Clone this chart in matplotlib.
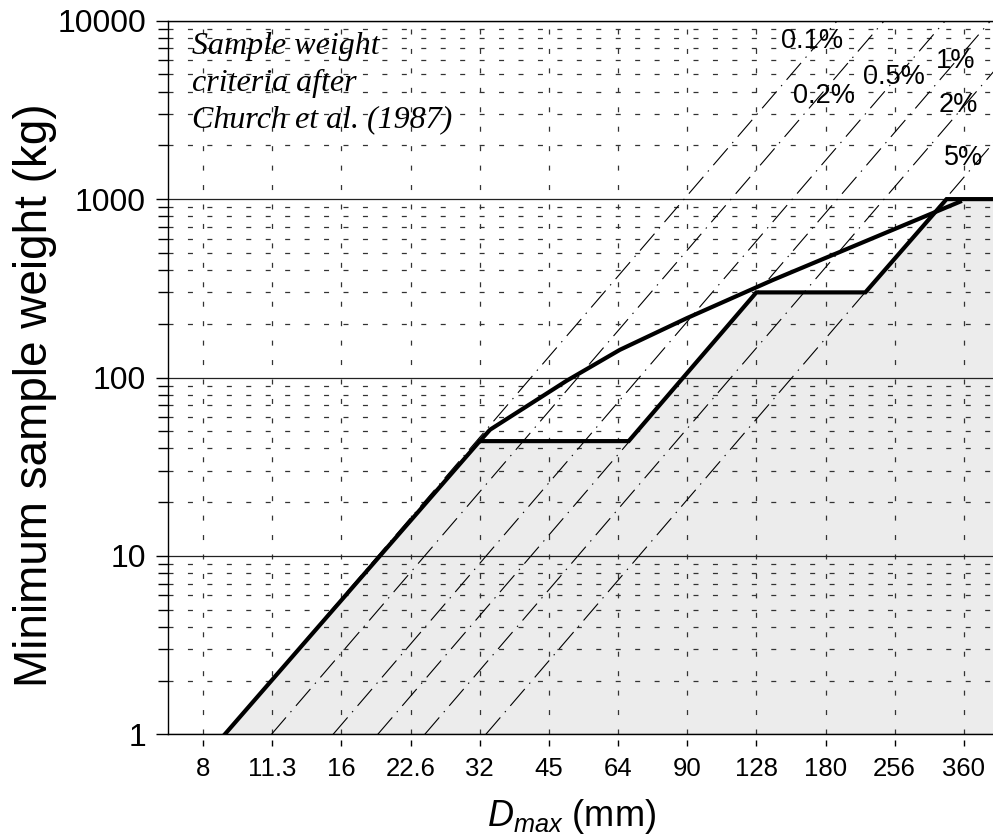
import matplotlib
matplotlib.use('Agg')
import matplotlib.pyplot as plt
import matplotlib.transforms as mtransforms
from matplotlib.ticker import NullLocator, NullFormatter, LogLocator

plt.rcParams['font.family'] = ['Liberation Sans', 'DejaVu Sans']
plt.rcParams['lines.scale_dashes'] = False
plt.rcParams['mathtext.fontset'] = 'custom'
plt.rcParams['mathtext.it'] = 'Liberation Sans:italic'
plt.rcParams['mathtext.rm'] = 'Liberation Sans'

# axis ticks (mm, powers of sqrt 2)
xticks = [8, 11.31, 16, 22.63, 32, 45.25, 64, 90.51, 128, 181.02, 256, 362.04]
xticklabels = ['8', '11.3', '16', '22.6', '32', '45', '64', '90', '128', '180', '256', '360']
yticks = [1, 10, 100, 1000, 10000]
yticklabels = ['1', '10', '100', '1000', '10000']

# Church et al. criterion (lower envelope, shaded)
low_d = [8.92, 32, 67.5, 128, 221, 332, 430]
low_w = [1, 44, 44, 300, 300, 1000, 1000]

# upper curve
up_d = [32, 33.7, 40.5, 49.5, 64.6, 90.3, 139, 355]
up_w = [44, 51, 69, 96, 143, 215, 352, 967]

# percentage lines (largest stone as % of sample): D at W=1 and W=10000
pct_labels = ['0.1%', '0.2%', '0.5%', '1%', '2%', '5%']
pct_d_bottom = [8.92, 11.27, 15.35, 19.2, 24.3, 33.0]
pct_d_top = [192, 243, 330, 414, 523, 710]
pct_lab_d = [169, 180, 255, 348, 352, 361]
pct_lab_w = [7700, 3784, 4832, 5943, 3367, 1700]

fig = plt.figure(figsize=(9.93, 8.39), dpi=100)
ax = fig.add_axes([0.1695, 0.1248, 0.8305, 0.8505])

ax.set_xscale('log', base=2)
ax.set_yscale('log')
ax.set_xlim(6.72, 419)
ax.set_ylim(1, 10000)

# shaded area under criterion
ax.fill_between(low_d, low_w, 1, color='#ececec', lw=0, zorder=0.2)

# grid
ax.set_axisbelow(True)
dot = (0, (3.6, 10.4))
ax.yaxis.grid(True, which='major', ls='-', lw=0.9, color='#222222')
ax.yaxis.grid(True, which='minor', ls=dot, lw=0.9, color='#333333')
ax.xaxis.grid(True, which='major', ls=dot, lw=0.9, color='#333333')

# percentage lines
for i in range(len(pct_labels)):
    ax.plot([pct_d_bottom[i], pct_d_top[i]], [1, 10000], color='k', lw=0.8,
            ls=(0, (16, 5, 1, 5)), zorder=2)
    ax.text(pct_lab_d[i], pct_lab_w[i], pct_labels[i], fontsize=19.5,
            ha='center', va='center', zorder=4)

ax.plot(low_d, low_w, color='k', lw=3, zorder=3, solid_joinstyle='miter')
ax.plot(up_d, up_w, color='k', lw=3, zorder=3)

ax.set_xticks(xticks)
ax.set_xticklabels(xticklabels)
ax.xaxis.set_minor_locator(NullLocator())
ax.set_yticks(yticks)
ax.set_yticklabels(yticklabels)
ax.yaxis.set_minor_locator(LogLocator(base=10, subs=range(2, 10)))
ax.yaxis.set_minor_formatter(NullFormatter())

ax.tick_params(axis='x', length=0, pad=16, labelsize=18.5)
ax.tick_params(axis='y', which='major', direction='out', length=9, width=1,
               pad=7, labelsize=23)
ax.tick_params(axis='y', which='minor', direction='out', length=7, width=1)

# small marks under the x axis
trans = mtransforms.blended_transform_factory(ax.transData, ax.transAxes)
ax.plot(xticks, [-0.012] * len(xticks), ls='none', marker='|', ms=4, mew=1,
        color='k', transform=trans, clip_on=False)

ax.spines['right'].set_visible(False)
for s in ['left', 'bottom', 'top']:
    ax.spines[s].set_linewidth(1)

ax.set_ylabel('Minimum sample weight (kg)', fontsize=33)
ax.yaxis.set_label_coords(-0.135, 0.475)
ax.set_xlabel('$D_{max}$ (mm)', fontsize=26)
ax.xaxis.set_label_coords(0.489, -0.088)

ax.text(0.029, 0.984, 'Sample weight\ncriteria after\nChurch et al. (1987)',
        transform=ax.transAxes, ha='left', va='top', fontsize=23,
        linespacing=1.34, family='Liberation Serif', style='italic', zorder=4)

fig.savefig('out.png', dpi=100)
